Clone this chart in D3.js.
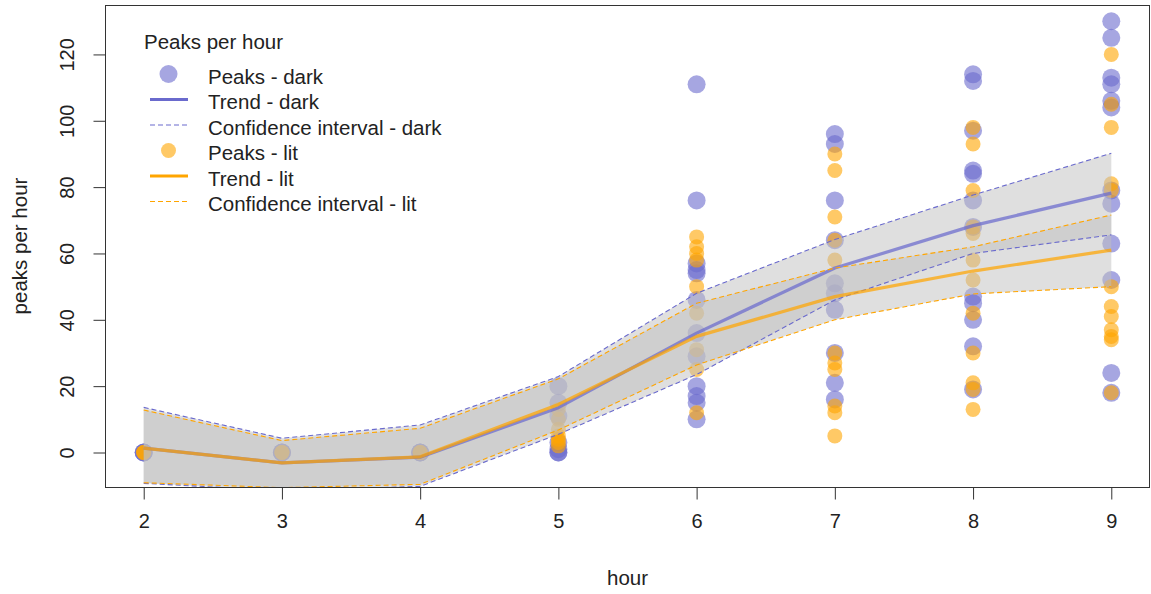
<!DOCTYPE html>
<html>
<head>
<meta charset="utf-8">
<script src="https://cdn.jsdelivr.net/npm/d3@7"></script>
<style>
  body { margin: 0; background: #fff; }
  svg { display: block; font-family: "Liberation Sans", Arial, sans-serif; }
</style>
</head>
<body>
<svg id="chart" width="1151" height="594"></svg>
<script>
// Hours of observation
const hours = [2, 3, 4, 5, 6, 7, 8, 9];

// Peaks counted in each hour, dark condition (one list per hour)
const peaksDark = [
  [0, 0, 0],
  [0, 0, 0],
  [0, 0, 0],
  [20, 15, 11, 3, 1, 0, 0],
  [111, 76, 57, 55, 54, 46, 36, 29, 20, 17, 15, 10],
  [96, 93, 76, 64, 51, 48, 43, 30, 21, 16],
  [114, 112, 97, 85, 84, 76, 68, 47, 45, 40, 32, 19],
  [130, 125, 113, 111, 106, 104, 79, 75, 63, 52, 24, 18]
];

// Peaks counted in each hour, lit condition
const peaksLit = [
  [0, 0, 0],
  [0, 0, 0],
  [0, 0, 0],
  [13, 10, 7, 5, 4, 3, 2],
  [65, 62, 60, 58, 50, 42, 31, 25, 12],
  [90, 85, 71, 64, 58, 30, 27, 25, 14, 12, 5],
  [98, 93, 79, 68, 66, 58, 52, 42, 30, 21, 19, 13],
  [120, 105, 98, 81, 79, 50, 44, 41, 37, 35, 34, 18]
];

// Fitted trend and confidence bounds per hour
const trendDark   = [1.3, -3.1, -1.4, 13.5, 36.0, 55.6, 68.4, 78.2];
const ciDarkUpper = [13.6, 4.3, 8.3, 22.9, 48.0, 64.2, 77.6, 90.2];
const ciDarkLower = [-9.3, -11.5, -10.2, 5.5, 23.5, 46.0, 60.0, 65.6];

const trendLit    = [1.3, -3.1, -1.3, 14.5, 35.0, 47.0, 54.7, 61.0];
const ciLitUpper  = [12.8, 3.6, 7.3, 22.2, 45.0, 55.6, 62.0, 71.6];
const ciLitLower  = [-9.1, -10.6, -9.6, 6.8, 26.4, 40.0, 47.8, 50.0];

// Axis ticks
const xTicks = [2, 3, 4, 5, 6, 7, 8, 9];
const yTicks = [0, 20, 40, 60, 80, 100, 120];

// Legend entries
const legendTitle = "Peaks per hour";
const legendItems = [
  { label: "Peaks - dark", kind: "point", group: "dark" },
  { label: "Trend - dark", kind: "line", group: "dark" },
  { label: "Confidence interval - dark", kind: "dash", group: "dark" },
  { label: "Peaks - lit", kind: "point", group: "lit" },
  { label: "Trend - lit", kind: "line", group: "lit" },
  { label: "Confidence interval - lit", kind: "dash", group: "lit" }
];

const colors = { dark: "#6a6acd", lit: "#ffa500" };
const radius = { dark: 9, lit: 7.5 };

const plot = { left: 105, right: 1150, top: 5, bottom: 487 };
const svg = d3.select("#chart");
svg.append("rect").attr("width", 1151).attr("height", 594).attr("fill", "#fff");

const x = d3.scaleLinear().domain([1.72, 9.28]).range([plot.left, plot.right]);
const y = d3.scaleLinear().domain([-10.4, 134.9]).range([plot.bottom, plot.top]);

svg.append("defs").append("clipPath").attr("id", "plotClip")
  .append("rect")
  .attr("x", plot.left).attr("y", plot.top)
  .attr("width", plot.right - plot.left).attr("height", plot.bottom - plot.top);

const body = svg.append("g").attr("clip-path", "url(#plotClip)");

// Scatter points: dark first, lit on top
function flatten(lists) {
  const out = [];
  lists.forEach((vals, i) => vals.forEach(v => out.push({ hour: hours[i], value: v })));
  return out;
}
[["dark", peaksDark], ["lit", peaksLit]].forEach(([g, lists]) => {
  body.append("g").selectAll("circle")
    .data(flatten(lists))
    .join("circle")
    .attr("cx", d => x(d.hour))
    .attr("cy", d => y(d.value))
    .attr("r", radius[g])
    .attr("fill", colors[g])
    .attr("fill-opacity", 0.6);
});

// Confidence bands (translucent grey, overlapping)
const area = d3.area()
  .x((d, i) => x(hours[i]))
  .y0(d => y(d[0]))
  .y1(d => y(d[1]));
[[ciDarkLower, ciDarkUpper], [ciLitLower, ciLitUpper]].forEach(([lo, hi]) => {
  body.append("path")
    .datum(lo.map((v, i) => [v, hi[i]]))
    .attr("d", area)
    .attr("fill", "#bfbfbf")
    .attr("fill-opacity", 0.5);
});

// Trend and interval lines
const line = d3.line().x((d, i) => x(hours[i])).y(d => y(d));
function drawGroup(g, trend, upper, lower) {
  body.append("path").datum(trend).attr("d", line)
    .attr("fill", "none").attr("stroke", colors[g])
    .attr("stroke-width", 3.2).attr("stroke-opacity", 0.72)
    .attr("stroke-linejoin", "round");
  [upper, lower].forEach(b => {
    body.append("path").datum(b).attr("d", line)
      .attr("fill", "none").attr("stroke", colors[g])
      .attr("stroke-width", 1.1).attr("stroke-dasharray", "5,3");
  });
}
drawGroup("dark", trendDark, ciDarkUpper, ciDarkLower);
drawGroup("lit", trendLit, ciLitUpper, ciLitLower);

// Plot frame
svg.append("rect")
  .attr("x", plot.left + 0.5).attr("y", plot.top + 0.5)
  .attr("width", plot.right - plot.left - 1).attr("height", plot.bottom - plot.top)
  .attr("fill", "none").attr("stroke", "#333").attr("stroke-width", 1);

// Axes
const fontSize = 20.5;
const xAxis = svg.append("g")
  .attr("transform", `translate(0,${plot.bottom + 0.5})`)
  .call(d3.axisBottom(x).tickValues(xTicks).tickSize(12).tickPadding(14).tickFormat(d3.format("d")));
const yAxis = svg.append("g")
  .attr("transform", `translate(${plot.left + 0.5},0)`)
  .call(d3.axisLeft(y).tickValues(yTicks).tickSize(12).tickFormat(d3.format("d")));
[xAxis, yAxis].forEach(a => {
  a.select(".domain").remove();
  a.selectAll(".tick line").attr("stroke", "#333");
  a.selectAll("text").attr("fill", "#222").style("font-size", "20px")
    .style("font-family", '"Liberation Sans", Arial, sans-serif');
});
yAxis.selectAll(".tick text")
  .attr("transform", "rotate(-90)")
  .attr("x", 0).attr("y", -32).attr("dy", null)
  .attr("text-anchor", "middle");

// Axis titles
svg.append("text")
  .attr("x", (plot.left + plot.right) / 2).attr("y", 585)
  .attr("text-anchor", "middle").attr("fill", "#222")
  .style("font-size", fontSize + "px").text("hour");
svg.append("text")
  .attr("transform", `translate(27,${(plot.top + plot.bottom) / 2}) rotate(-90)`)
  .attr("text-anchor", "middle").attr("fill", "#222")
  .style("font-size", fontSize + "px").text("peaks per hour");

// Legend
const legend = svg.append("g");
legend.append("text").attr("x", 144).attr("y", 48.5).attr("fill", "#222")
  .style("font-size", fontSize + "px").text(legendTitle);
legendItems.forEach((item, i) => {
  const ry = 74 + i * 25.5;
  const c = colors[item.group];
  if (item.kind === "point") {
    legend.append("circle").attr("cx", 168.5).attr("cy", ry)
      .attr("r", radius[item.group]).attr("fill", c).attr("fill-opacity", 0.6);
  } else {
    legend.append("line").attr("x1", 150).attr("x2", 188).attr("y1", ry).attr("y2", ry)
      .attr("stroke", c)
      .attr("stroke-width", item.kind === "line" ? 3 : 1.2)
      .attr("stroke-dasharray", item.kind === "dash" ? "5,3" : null);
  }
  legend.append("text").attr("x", 208).attr("y", ry + 9.5).attr("fill", "#222")
    .style("font-size", fontSize + "px").text(item.label);
});
</script>
</body>
</html>
